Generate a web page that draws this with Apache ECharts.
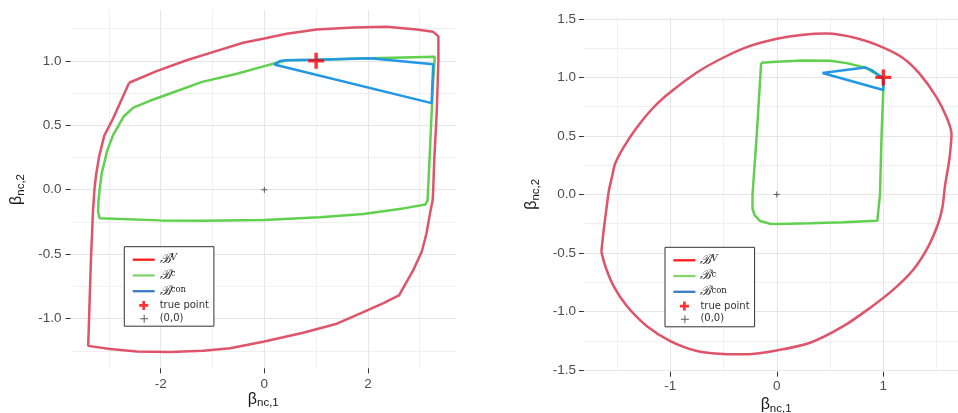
<!DOCTYPE html>
<html>
<head>
<meta charset="utf-8">
<script src="https://cdn.jsdelivr.net/npm/echarts@6.0.0/dist/echarts.min.js"></script>
<style>
html,body{margin:0;padding:0;background:#fff;}
#chart{width:958px;height:413px;}
</style>
</head>
<body>
<div id="chart"></div>
<script>
// ---------------- DATA ----------------
// Left panel
var leftBV = [[-2.61,0.83],[-2.08,0.92],[-1.50,1.005],[-0.98,1.07],[-0.41,1.14],[0,1.173],[0.43,1.21],[1.01,1.243],[1.72,1.258],[2.36,1.264],[2.94,1.243],[3.26,1.225],[3.36,1.19],[3.36,1.005],[3.33,0.618],[3.28,0.23],[3.26,0.0],[3.25,-0.08],[3.20,-0.18],[3.13,-0.34],[3.04,-0.48],[2.88,-0.62],[2.60,-0.82],[2.30,-0.88],[1.91,-0.95],[1.40,-1.04],[0.75,-1.11],[0,-1.178],[-0.66,-1.23],[-1.18,-1.25],[-1.82,-1.26],[-2.46,-1.255],[-2.98,-1.237],[-3.40,-1.212],[-3.38,-0.958],[-3.35,-0.57],[-3.31,-0.18],[-3.28,0.0],[-3.25,0.11],[-3.19,0.256],[-3.09,0.42],[-2.92,0.553],[-2.61,0.83]];
var leftBc = [[0.19,0.979],[0,0.959],[-0.53,0.90],[-1.20,0.837],[-1.82,0.747],[-2.21,0.69],[-2.53,0.637],[-2.72,0.566],[-2.92,0.424],[-3.03,0.307],[-3.14,0.127],[-3.18,0.0],[-3.20,-0.08],[-3.21,-0.17],[-3.18,-0.222],[-2.01,-0.238],[-1.18,-0.24],[0,-0.235],[1.07,-0.214],[1.91,-0.188],[2.68,-0.145],[3.11,-0.115],[3.15,-0.085],[3.17,0.075],[3.20,0.33],[3.24,0.69],[3.26,0.85],[3.29,1.031],[2.04,1.02],[1.01,1.008],[0.43,1.005],[0.19,0.979]];
var leftBcon = [[0.19,0.972],[0.30,0.998],[0.43,1.005],[1.01,1.008],[2.04,1.02],[3.26,0.974],[3.23,0.672],[0.19,0.972]];
// Right panel
var rightBV = [[-1.647,-0.488],[-1.625,-0.303],[-1.597,-0.105],[-1.575,0.04],[-1.547,0.15],[-1.518,0.263],[-1.4375,0.405],[-1.3125,0.575],[-1.156,0.745],[-1.0,0.873],[-0.75,1.042],[-0.5,1.17],[-0.25,1.269],[0,1.331],[0.25,1.365],[0.47,1.374],[0.75,1.334],[1.0,1.255],[1.1875,1.164],[1.344,1.028],[1.5,0.83],[1.594,0.66],[1.640,0.518],[1.638,0.462],[1.619,0.292],[1.578,0.065],[1.556,-0.105],[1.516,-0.246],[1.422,-0.445],[1.281,-0.643],[1.094,-0.813],[0.875,-0.969],[0.625,-1.125],[0.3125,-1.267],[0,-1.332],[-0.3125,-1.366],[-0.5,-1.363],[-0.75,-1.337],[-1.0,-1.252],[-1.219,-1.125],[-1.406,-0.955],[-1.531,-0.785],[-1.609,-0.615],[-1.647,-0.488]];
var rightBc = [[-0.147,1.125],[0,1.133],[0.25,1.144],[0.5,1.142],[0.656,1.122],[0.828,1.085],[0.9375,1.028],[1.0,0.986],[1.0,0.892],[0.984,0.518],[0.969,0.0],[0.944,-0.224],[0.625,-0.238],[0.3125,-0.246],[0,-0.252],[-0.0625,-0.25],[-0.156,-0.227],[-0.209,-0.176],[-0.228,-0.119],[-0.228,0.0],[-0.1875,0.518],[-0.147,1.125]];
var rightBcon = [[0.428,1.037],[0.828,1.085],[0.89,1.062],[0.953,1.023],[1.0,0.994],[1.0,0.892],[0.428,1.037]];
// Points
var truePoint = [[1,1]];
var originPoint = [[0,0]];
// Ticks
var leftXMajor = [-2,0,2];
var leftXMinor = [-3,-1,1,3];
var leftYMajor = [-1,-0.5,0,0.5,1];
var leftYMinor = [-1.25,-0.75,-0.25,0.25,0.75,1.25];
var rightXMajor = [-1,0,1];
var rightXMinor = [-1.5,-0.5,0.5,1.5];
var rightYMajor = [-1.5,-1,-0.5,0,0.5,1,1.5];
var rightYMinor = [-1.25,-0.75,-0.25,0.25,0.75,1.25];

// ---------------- STYLE ----------------
var COL_V = '#DF536B', COL_C = '#61D04F', COL_CON = '#2297E6';
var plusPath = 'path://M6.3,0H9.7V6.3H16V9.7H9.7V16H6.3V9.7H0V6.3H6.3Z';
var thinPlus = 'path://M2.5,0H3.5V2.5H6V3.5H3.5V6H2.5V3.5H0V2.5H2.5Z';
var legLine = 'path://M0,0H22V2.3H0Z';
var legPlus = 'path://M-0.5,-0.5M10.5,10.5M3.5,0H6.5V3.5H10V6.5H6.5V10H3.5V6.5H0V3.5H3.5Z';
var legThin = 'path://M-1.5,-1.5M8.5,8.5M3.5,0H4.5V3.5H8V4.5H4.5V8H3.5V4.5H0V3.5H3.5Z';

var nameRich = {
  b:{fontSize:16, fontFamily:'Liberation Sans', color:'#1a1a1a', lineHeight:20},
  s:{fontSize:11.5, fontFamily:'Liberation Sans', color:'#1a1a1a', lineHeight:10, verticalAlign:'bottom'}
};

function mainAxis(dim, gi, min, max, majors, fmt, name, nameGap, margin){
  return {
    type:'value', gridIndex:gi, min:min, max:max,
    position: dim==='x' ? 'bottom' : 'left',
    axisLine:{show:false, onZero:false},
    axisTick:{show:true, customValues:majors, length:5, lineStyle:{color:'#333', width:1}},
    axisLabel:{customValues:majors, formatter:fmt, color:'#4d4d4d', fontSize:13.5, fontFamily:'Liberation Sans', margin:margin},
    splitLine:{show:true, lineStyle:{color:'#e6e6e6', width:1}},
    name:name, nameLocation:'middle', nameGap:nameGap, nameMoveOverlap:false,
    nameTextStyle:{rich:nameRich}
  };
}
function minorAxis(dim, gi, min, max, minors){
  return {
    type:'value', gridIndex:gi, min:min, max:max,
    position: dim==='x' ? 'bottom' : 'left',
    axisLine:{show:false, onZero:false},
    axisTick:{show:false, customValues:minors},
    axisLabel:{show:false},
    splitLine:{show:true, lineStyle:{color:'#f0f0f0', width:1}}
  };
}
var fx = function(v){ return String(v); };
var fy = function(v){ return v.toFixed(1); };

function lineSeries(name, data, color, xi, yi, smooth){
  return {type:'line', name:name, data:data, xAxisIndex:xi, yAxisIndex:yi,
    showSymbol:false, symbol:'none', smooth:smooth || false, lineStyle:{color:color, width:2.5},
    itemStyle:{color:color}, z:3, animation:false, silent:true};
}
function pointSeries(name, data, symbol, size, color, xi, yi, z){
  return {type:'scatter', name:name, data:data, xAxisIndex:xi, yAxisIndex:yi,
    symbol:symbol, symbolSize:size, itemStyle:{color:color}, z:z, animation:false, silent:true};
}

var legendData = [
  {name:'BV', icon:legLine, itemStyle:{color:'#ff1a1a', borderWidth:0}},
  {name:'Bc', icon:legLine, itemStyle:{color:'#86d46e', borderWidth:0}},
  {name:'Bcon', icon:legLine, itemStyle:{color:'#3b7cc9', borderWidth:0}},
  {name:'true point', icon:legPlus, itemStyle:{color:'#ff0000', borderWidth:0}},
  {name:'(0,0)', icon:legThin, itemStyle:{color:'#333', borderWidth:0}}
];
var legendRich = {
  b:{fontFamily:'DejaVu Serif', fontStyle:'italic', fontSize:13, color:'#222', lineHeight:12},
  s:{fontFamily:'DejaVu Serif', fontStyle:'italic', fontSize:8.5, color:'#222', lineHeight:8, verticalAlign:'top'},
  c:{fontFamily:'DejaVu Serif', fontSize:8.5, color:'#222', lineHeight:8, verticalAlign:'top'},
  t:{fontFamily:'DejaVu Sans', fontSize:10, color:'#333', lineHeight:12}
};
function legendFmt(name){
  if(name==='BV') return '{b|\u212C}{s|V}';
  if(name==='Bc') return '{b|\u212C}{c|c}';
  if(name==='Bcon') return '{b|\u212C}{c|con}';
  return '{t|'+name+'}';
}
function makeLegend(left, top){
  return {
    left:left, top:top, orient:'vertical', selectedMode:false,
    padding:[6.5,5,3,8.4], itemGap:2.75, itemWidth:22, itemHeight:10, itemTextGap:2,
    borderColor:'#333', borderWidth:1, backgroundColor:'#fff',
    data:legendData, formatter:legendFmt, textStyle:{rich:legendRich}
  };
}

var option = {
  backgroundColor:'#fff',
  animation:false,
  grid:[
    {left:70.6, top:10.6, width:385.4, height:357.7, outerBoundsMode:'none', containLabel:false},
    {left:583.9, top:17.0, width:384.4, height:354.7, outerBoundsMode:'none', containLabel:false}
  ],
  xAxis:[
    mainAxis('x',0,-3.74,3.70,leftXMajor,fx,'{b|\u03B2}{s|nc,1}',21,9),
    minorAxis('x',0,-3.74,3.70,leftXMinor),
    mainAxis('x',1,-1.811,1.798,rightXMajor,fx,'{b|\u03B2}{s|nc,1}',23,8),
    minorAxis('x',1,-1.811,1.798,rightXMinor)
  ],
  yAxis:[
    mainAxis('y',0,-1.386,1.39,leftYMajor,fy,'{b|\u03B2}{s|nc,2}',44,9),
    minorAxis('y',0,-1.386,1.39,leftYMinor),
    mainAxis('y',1,-1.514,1.516,rightYMajor,fy,'{b|\u03B2}{s|nc,2}',42,8),
    minorAxis('y',1,-1.514,1.516,rightYMinor)
  ],
  legend:[ makeLegend(124.3,246.7), makeLegend(665,247.3) ],
  series:[
    lineSeries('BV', leftBV, COL_V, 0, 0),
    lineSeries('Bc', leftBc, COL_C, 0, 0),
    lineSeries('Bcon', leftBcon, COL_CON, 0, 0),
    pointSeries('true point', truePoint, plusPath, 16, '#ff0000', 0, 0, 5),
    pointSeries('(0,0)', originPoint, thinPlus, 6, '#333', 0, 0, 5),
    lineSeries('BV', rightBV, COL_V, 2, 2, 0.3),
    lineSeries('Bc', rightBc, COL_C, 2, 2),
    lineSeries('Bcon', rightBcon, COL_CON, 2, 2),
    pointSeries('true point', truePoint, plusPath, 16, '#ff0000', 2, 2, 5),
    pointSeries('(0,0)', originPoint, thinPlus, 6, '#333', 2, 2, 5)
  ]
};
var chart = echarts.init(document.getElementById('chart'), null, {renderer:'canvas'});
chart.setOption(option);
</script>
</body>
</html>
